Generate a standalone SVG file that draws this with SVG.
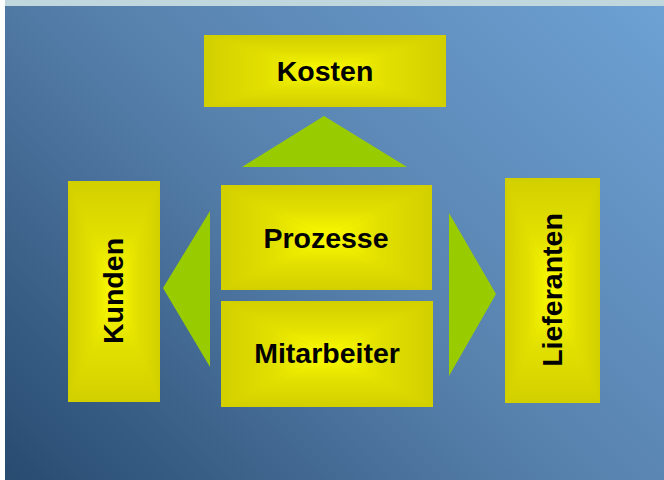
<svg xmlns="http://www.w3.org/2000/svg" width="664" height="480" viewBox="0 0 664 480">
  <style>
    .edge { fill: #d2cf00; }
    .t { fill: url(#gTop); }
    .b { fill: url(#gBot); }
    .l { fill: url(#gLeft); }
    .r { fill: url(#gRight); }
    .label { font-family: "Liberation Sans", Arial, sans-serif; font-weight: bold; font-size: 28.5px; fill: #000; text-anchor: middle; }
    .arrow { fill: #99cc00; }
  </style>
  <defs>
    <linearGradient id="bg" gradientUnits="userSpaceOnUse" x1="5" y1="480" x2="571.5" y2="-86.5">
      <stop offset="0" stop-color="#284b70"/>
      <stop offset="0.5" stop-color="#5781ad"/>
      <stop offset="1" stop-color="#6da1d4"/>
    </linearGradient>
    <!-- rectangular "from centre" shading built from four triangles -->
    <linearGradient id="gTop" x1="0" y1="0" x2="0" y2="1">
      <stop offset="0" stop-color="#d2cf00"/>
      <stop offset="0.5" stop-color="#e2e000"/>
      <stop offset="1" stop-color="#fcfc00"/>
    </linearGradient>
    <linearGradient id="gBot" x1="0" y1="1" x2="0" y2="0">
      <stop offset="0" stop-color="#d2cf00"/>
      <stop offset="0.5" stop-color="#e2e000"/>
      <stop offset="1" stop-color="#fcfc00"/>
    </linearGradient>
    <linearGradient id="gLeft" x1="0" y1="0" x2="1" y2="0">
      <stop offset="0" stop-color="#d2cf00"/>
      <stop offset="0.5" stop-color="#e2e000"/>
      <stop offset="1" stop-color="#fcfc00"/>
    </linearGradient>
    <linearGradient id="gRight" x1="1" y1="0" x2="0" y2="0">
      <stop offset="0" stop-color="#d2cf00"/>
      <stop offset="0.5" stop-color="#e2e000"/>
      <stop offset="1" stop-color="#fcfc00"/>
    </linearGradient>
  </defs>

  <!-- backdrop -->
  <rect x="0" y="0" width="664" height="480" fill="#ffffff"/>
  <rect x="5" y="0" width="659" height="480" fill="url(#bg)"/>
  <rect x="5" y="0" width="659" height="6" fill="#c0d7de"/>

  <!-- connectors -->
  <g id="connectors">
    <polygon class="arrow" points="324,116 242,167 407,167"/>
    <polygon class="arrow" points="163,288 210,211 210,367"/>
    <polygon class="arrow" points="449,213 496,294 449,376"/>
  </g>

  <g id="kosten" transform="translate(204,35)">
    <rect class="edge" width="242" height="72"/>
    <polygon class="t" points="0,0 242,0 121,36"/>
    <polygon class="b" points="0,72 242,72 121,36"/>
    <polygon class="l" points="0,0 0,72 121,36"/>
    <polygon class="r" points="242,0 242,72 121,36"/>
    <text class="label" x="121" y="46">Kosten</text>
  </g>

  <g id="prozesse" transform="translate(221,185)">
    <rect class="edge" width="211" height="105"/>
    <polygon class="t" points="0,0 211,0 105.5,52.5"/>
    <polygon class="b" points="0,105 211,105 105.5,52.5"/>
    <polygon class="l" points="0,0 0,105 105.5,52.5"/>
    <polygon class="r" points="211,0 211,105 105.5,52.5"/>
    <text class="label" x="105" y="63">Prozesse</text>
  </g>

  <g id="mitarbeiter" transform="translate(221,301)">
    <rect class="edge" width="212" height="106"/>
    <polygon class="t" points="0,0 212,0 106,53"/>
    <polygon class="b" points="0,106 212,106 106,53"/>
    <polygon class="l" points="0,0 0,106 106,53"/>
    <polygon class="r" points="212,0 212,106 106,53"/>
    <text class="label" x="106" y="62">Mitarbeiter</text>
  </g>

  <g id="kunden" transform="translate(68,181)">
    <rect class="edge" width="92" height="221"/>
    <polygon class="t" points="0,0 92,0 46,110.5"/>
    <polygon class="b" points="0,221 92,221 46,110.5"/>
    <polygon class="l" points="0,0 0,221 46,110.5"/>
    <polygon class="r" points="92,0 92,221 46,110.5"/>
    <text class="label" transform="translate(55,110) rotate(-90)">Kunden</text>
  </g>

  <g id="lieferanten" transform="translate(505,178)">
    <rect class="edge" width="95" height="225"/>
    <polygon class="t" points="0,0 95,0 47.5,112.5"/>
    <polygon class="b" points="0,225 95,225 47.5,112.5"/>
    <polygon class="l" points="0,0 0,225 47.5,112.5"/>
    <polygon class="r" points="95,0 95,225 47.5,112.5"/>
    <text class="label" transform="translate(57,112) rotate(-90)">Lieferanten</text>
  </g>
</svg>
